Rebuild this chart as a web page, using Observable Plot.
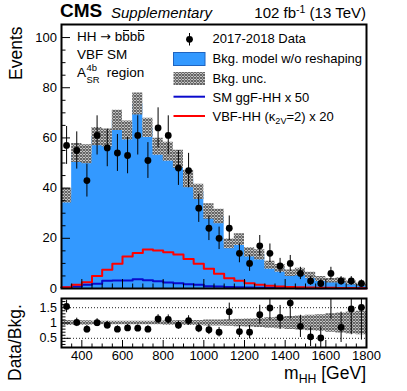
<!DOCTYPE html>
<html><head><meta charset="utf-8">
<script src="https://cdn.jsdelivr.net/npm/d3@7"></script>
<script src="https://cdn.jsdelivr.net/npm/@observablehq/plot@0.6"></script>
<style>
body{margin:0;background:#fff;font-family:"Liberation Sans",Arial,sans-serif;}
#wrap{position:relative;width:407px;height:391px;overflow:hidden;background:#fff}
#wrap > svg{position:absolute;left:0}
.t{position:absolute;white-space:nowrap;color:#000;line-height:1}
.ol{position:relative}
.ol::before{content:"";position:absolute;left:0.08em;right:0.04em;top:0.02em;border-top:1px solid #000}
.ar{font-family:"DejaVu Sans",sans-serif;font-size:0.95em}
.up{position:relative;top:-0.45em;font-size:0.7em}
.dn{position:relative;top:0.3em;font-size:0.7em}
.ss{display:inline-block;position:relative;width:1.25em;height:0;vertical-align:baseline}
.ss .a{position:absolute;left:0.05em;bottom:0.45em;font-size:0.7em}
.ss .b{position:absolute;left:0.05em;top:-0.15em;font-size:0.7em}
</style></head><body><div id="wrap"></div>
<script>
// ---- data ----
const binLo   = [300,350,400,450,500,550,600,650,700,750,800,850,900,950,1000,1050,1100,1150,1200,1250,1300,1350,1400,1450,1500,1550,1600,1650,1700,1750];
const binHi   = [350,400,450,500,550,600,650,700,750,800,850,900,950,1000,1050,1100,1150,1200,1250,1300,1350,1400,1450,1500,1550,1600,1650,1700,1750,1800];
const bkg     = [37,54,53.5,60.5,60,67,63,73.5,64,56.5,54.5,51.5,43.6,38.5,30.7,28.7,17.8,19.5,14.4,13.4,9.3,8,6.1,6.6,5.2,3.8,3.1,3.2,2.2,1.5];
const bkgUnc  = [0.08,0.07,0.07,0.06,0.06,0.06,0.06,0.06,0.06,0.06,0.07,0.07,0.08,0.08,0.10,0.10,0.11,0.12,0.13,0.15,0.17,0.19,0.21,0.23,0.25,0.27,0.30,0.33,0.36,0.38];
const dataCounts = [57,55,43,61,56,54,53,61,51,64,61,48,47,32,24,20,24,14,10,17,14,9,10,6,3,2,6,3,3,2];
const ratio   = [1.54,1.02,0.80,1.01,0.93,0.80,0.84,0.83,0.80,1.13,1.12,0.93,1.08,0.83,0.78,0.70,1.37,0.72,0.70,1.27,1.49,1.18,1.65,0.89,0.55,0.51,1.90,0.86,1.46,1.51];
const ggfSM50 = [0.4,0.8,1.5,1.9,3.1,3.2,3.2,3.7,3.3,2.9,2.4,2.1,1.7,1.5,0.9,0.8,0.6,0.5,0.4,0.3,0.3,0.2,0.2,0.1,0.1,0.1,0.1,0.1,0.1,0.1];
const vbfK2V20 = [0.5,1.5,2.5,5,7.5,9.9,12.8,14.1,15.5,15.1,14.4,13.5,11.8,9.9,7.9,5.9,4.1,3.1,2.1,1.5,1.1,0.8,0.6,0.5,0.4,0.3,0.3,0.2,0.2,0.1];

const xMajor = [400,600,800,1000,1200,1400,1600,1800];
const xLabels = ["400","600","800","1000","1200","1400","1600","1800"];
const yMajor = [0,20,40,60,80,100];
const yMinor = [5,10,15,25,30,35,45,50,55,65,70,75,85,90,95];
const rMajor = [0.5,1,1.5];
const rLabels = ["0.5","1","1.5"];
const rMinor = [0.3,0.4,0.6,0.7,0.8,0.9,1.1,1.2,1.3,1.4,1.6,1.7];

// ---- table ----
const bins = binLo.map((lo,i)=>({lo, hi:binHi[i], mid:(lo+binHi[i])/2, bkg:bkg[i], u:bkgUnc[i],
  n:dataCounts[i], r:ratio[i], ggf:ggfSM50[i], vbf:vbfK2V20[i]}));
const steps = bins.concat([{...bins[bins.length-1], lo: binHi[binHi.length-1]}]);
const xMinor = binLo.concat(binHi).filter((v,i,a)=>a.indexOf(v)===i && !xMajor.includes(v) && v>300);

const BLUE = "#3399ff", FONT = "Liberation Sans, Arial, sans-serif";
const hatchDefs = `<pattern id="hatch" width="3" height="3" patternUnits="userSpaceOnUse">
  <rect width="3" height="3" fill="#f2f2f2"/><path d="M0,0L3,3M3,0L0,3" stroke="#5e5e5e" stroke-width="1.1"/></pattern>`;

const common = {width:407, marginLeft:61, marginRight:41,
  style:{fontFamily:FONT, fontSize:"13px", color:"black", background:"transparent", overflow:"visible"}};

// ---- main panel ----
const main = Plot.plot({...common, height:290, marginTop:24, marginBottom:2,
  x:{domain:[300,1800], label:null},
  y:{domain:[0,105.2], label:null},
  marks:[
    Plot.areaY(steps, {x:"lo", y:"bkg", curve:"step-after", fill:BLUE}),
    Plot.areaY(steps, {x:"lo", y1:d=>d.bkg*(1-d.u), y2:d=>d.bkg*(1+d.u), curve:"step-after", fill:"url(#hatch)"}),
    Plot.line(steps, {x:"lo", y:"ggf", curve:"step-after", stroke:"#0a0acc", strokeWidth:2}),
    Plot.line(steps, {x:"lo", y:"vbf", curve:"step-after", stroke:"#ff0000", strokeWidth:2}),
    Plot.ruleX(bins, {x:"mid", y1:d=>Math.max(0,d.n-Math.sqrt(d.n)), y2:d=>d.n+Math.sqrt(d.n), stroke:"black", strokeWidth:1}),
    Plot.dot(bins, {x:"mid", y:"n", r:3.4, fill:"black", stroke:null}),
    Plot.axisY({ticks:yMajor, tickSize:-9, tickPadding:13.5, fontSize:13, label:null}),
    Plot.axisY({ticks:yMinor, tickSize:-4.5, tickFormat:()=>"", label:null}),
    Plot.axisX({ticks:xMajor, tickSize:-9, tickFormat:()=>"", label:null}),
    Plot.axisX({ticks:xMinor, tickSize:-4.5, tickFormat:()=>"", label:null}),
    Plot.frame({stroke:"black", strokeWidth:2})
  ]});
d3.select(main).insert("defs", ":first-child").html(hatchDefs);
main.style.top = "0px";

// ---- ratio panel ----
const rat = Plot.plot({...common, height:101, marginTop:8, marginBottom:44,
  x:{domain:[300,1800], label:null},
  y:{domain:[0.2,1.8], label:null},
  marks:[
    Plot.ruleY(rMajor, {stroke:"#222", strokeWidth:1, strokeDasharray:"1,2"}),
    Plot.areaY(steps, {x:"lo", y1:d=>1-d.u, y2:d=>1+d.u, curve:"step-after", fill:"url(#hatch2)"}),
    Plot.ruleX(bins, {x:"mid", y1:d=>Math.max(0,d.r-d.r/Math.sqrt(d.n)), y2:d=>d.r+d.r/Math.sqrt(d.n), stroke:"black", strokeWidth:1, clip:true}),
    Plot.dot(bins, {x:"mid", y:"r", r:3.4, fill:"black", stroke:null, clip:true}),
    Plot.axisY({ticks:rMajor, tickSize:-9, tickPadding:13.5, fontSize:12.5, tickFormat:(d,i)=>rLabels[i], label:null}),
    Plot.axisY({ticks:rMinor, tickSize:-4.5, tickFormat:()=>"", label:null}),
    Plot.axisX({ticks:xMajor, tickSize:-7, tickPadding:10, fontSize:13, tickFormat:(d,i)=>xLabels[i], label:null}),
    Plot.axisX({ticks:xMinor, tickSize:-3.5, tickFormat:()=>"", label:null}),
    Plot.frame({stroke:"black", strokeWidth:2})
  ]});
d3.select(rat).insert("defs", ":first-child").html(hatchDefs.replace('id="hatch"','id="hatch2"'));
rat.style.top = "290px";

const wrap = document.getElementById("wrap");
wrap.appendChild(main);
wrap.appendChild(rat);

// ---- legend symbols ----
const leg = d3.select(wrap).append("svg").attr("width",407).attr("height",391).style("top","0px");
leg.append("defs").html(hatchDefs.replace('id="hatch"','id="hatch3"'));
leg.append("line").attr("x1",189.5).attr("x2",189.5).attr("y1",33).attr("y2",45.5).attr("stroke","black");
leg.append("circle").attr("cx",189.5).attr("cy",39.3).attr("r",3.4).attr("fill","black");
leg.append("rect").attr("x",173.5).attr("y",52.5).attr("width",31.5).attr("height",13).attr("fill",BLUE).attr("stroke","#1f64c0");
leg.append("rect").attr("x",173.5).attr("y",72).attr("width",31.5).attr("height",13).attr("fill","url(#hatch3)");
leg.append("line").attr("x1",173.5).attr("x2",205).attr("y1",96.7).attr("y2",96.7).attr("stroke","#0a0acc").attr("stroke-width",2);
leg.append("line").attr("x1",173.5).attr("x2",205).attr("y1",116).attr("y2",116).attr("stroke","#ff0000").attr("stroke-width",2);

// ---- texts ----
function txt(html, o){
  const d=document.createElement("div"); d.className="t"; d.innerHTML=html;
  const fs=o.fs; d.style.fontSize=fs+"px";
  if(o.bold) d.style.fontWeight="bold";
  if(o.italic) d.style.fontStyle="italic";
  if(o.baseline!==undefined) d.style.top=(o.baseline-0.847*fs)+"px";
  if(o.left!==undefined) d.style.left=o.left+"px";
  if(o.right!==undefined) d.style.right=o.right+"px";
  if(o.style) Object.assign(d.style,o.style);
  wrap.appendChild(d); return d;
}
txt("CMS",{fs:19,bold:true,left:60,baseline:17.3});
txt("Supplementary",{fs:15,italic:true,left:111,baseline:17.3});
txt('102 fb<span class="up">-1</span> (13 TeV)',{fs:15,right:41,baseline:17.3});
txt('HH <span class="ar">&rarr;</span> b<span class="ol">b</span>b<span class="ol">b</span>',{fs:13.5,left:77,baseline:41.7});
txt('VBF SM',{fs:13.5,left:77,baseline:59.3});
txt('A<span class="ss"><span class="a">4b</span><span class="b">SR</span></span> region',{fs:13.5,left:77,baseline:77});
const legTexts = ["2017-2018 Data","Bkg. model w/o reshaping","Bkg. unc.","SM ggF-HH x 50",'VBF-HH (&kappa;<span class="dn">2V</span>=2) x 20'];
const legBase = [43,63,82.7,101.7,121];
legTexts.forEach((s,i)=>txt(s,{fs:13,left:212.5,baseline:legBase[i]}));
txt('m<span class="dn">HH</span> [GeV]',{fs:17.5,right:41,baseline:380});
// rotated axis titles
txt("Events",{fs:17.5,style:{left:"0px",top:"0px",transformOrigin:"0 0",transform:"translate(8px,80px) rotate(-90deg)"}});
txt("Data/Bkg.",{fs:17.5,style:{left:"0px",top:"0px",transformOrigin:"0 0",transform:"translate(7px,381px) rotate(-90deg)"}});
</script></body></html>
